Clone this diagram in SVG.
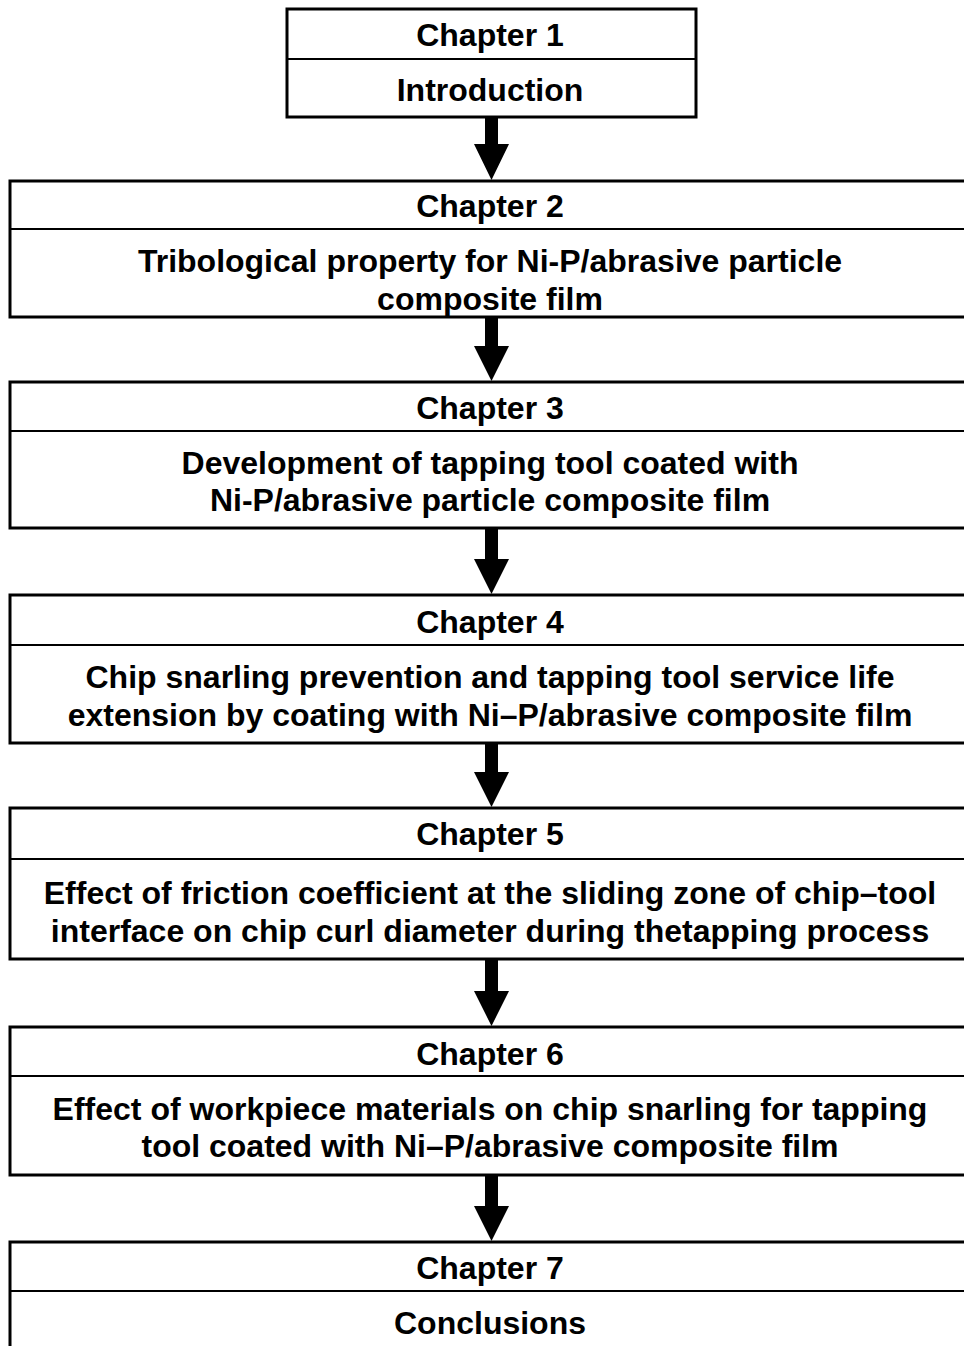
<svg xmlns="http://www.w3.org/2000/svg" width="964" height="1346" viewBox="0 0 964 1346">
<style>
.box{fill:#fff;stroke:#000;stroke-width:3}
.div{stroke:#000;stroke-width:2}
.t{font-family:"Liberation Sans",Arial,sans-serif;font-weight:bold;font-size:32px;text-anchor:middle;fill:#000}
.arr{fill:#000}
</style>
<rect width="964" height="1346" fill="#fff"/>
<g id="connectors">
<polygon class="arr" points="485,117 498,117 498,144 509,144 491.5,180 474,144 485,144"/>
<polygon class="arr" points="485,317 498,317 498,346 509,346 491.5,381 474,346 485,346"/>
<polygon class="arr" points="485,528 498,528 498,559 509,559 491.5,594 474,559 485,559"/>
<polygon class="arr" points="485,743 498,743 498,772 509,772 491.5,807 474,772 485,772"/>
<polygon class="arr" points="485,959 498,959 498,991 509,991 491.5,1026 474,991 485,991"/>
<polygon class="arr" points="485,1175 498,1175 498,1206 509,1206 491.5,1241 474,1206 485,1206"/>
</g>
<g id="ch1">
<rect class="box" x="287" y="9" width="409" height="108"/>
<line class="div" x1="287" y1="59" x2="696" y2="59"/>
<text class="t" x="490" y="46">Chapter 1</text>
<text class="t" x="490" y="101">Introduction</text>
</g>
<g id="ch2">
<rect class="box" x="10" y="181" width="960" height="136"/>
<line class="div" x1="10" y1="229" x2="970" y2="229"/>
<text class="t" x="490" y="217">Chapter 2</text>
<text class="t" x="490" y="272">Tribological property for Ni-P/abrasive particle</text>
<text class="t" x="490" y="310">composite film</text>
</g>
<g id="ch3">
<rect class="box" x="10" y="382" width="960" height="146"/>
<line class="div" x1="10" y1="431" x2="970" y2="431"/>
<text class="t" x="490" y="419">Chapter 3</text>
<text class="t" x="490" y="474">Development of tapping tool coated with</text>
<text class="t" x="490" y="511">Ni-P/abrasive particle composite film</text>
</g>
<g id="ch4">
<rect class="box" x="10" y="595" width="960" height="148"/>
<line class="div" x1="10" y1="645" x2="970" y2="645"/>
<text class="t" x="490" y="633">Chapter 4</text>
<text class="t" x="490" y="688">Chip snarling prevention and tapping tool service life</text>
<text class="t" x="490" y="726">extension by coating with Ni–P/abrasive composite film</text>
</g>
<g id="ch5">
<rect class="box" x="10" y="808" width="960" height="151"/>
<line class="div" x1="10" y1="859" x2="970" y2="859"/>
<text class="t" x="490" y="845">Chapter 5</text>
<text class="t" x="490" y="904">Effect of friction coefficient at the sliding zone of chip–tool</text>
<text class="t" x="490" y="942">interface on chip curl diameter during thetapping process</text>
</g>
<g id="ch6">
<rect class="box" x="10" y="1027" width="960" height="148"/>
<line class="div" x1="10" y1="1076" x2="970" y2="1076"/>
<text class="t" x="490" y="1065">Chapter 6</text>
<text class="t" x="490" y="1120">Effect of workpiece materials on chip snarling for tapping</text>
<text class="t" x="490" y="1157">tool coated with Ni–P/abrasive composite film</text>
</g>
<g id="ch7">
<rect class="box" x="10" y="1242" width="960" height="120"/>
<line class="div" x1="10" y1="1291" x2="970" y2="1291"/>
<text class="t" x="490" y="1279">Chapter 7</text>
<text class="t" x="490" y="1334">Conclusions</text>
</g>
</svg>
